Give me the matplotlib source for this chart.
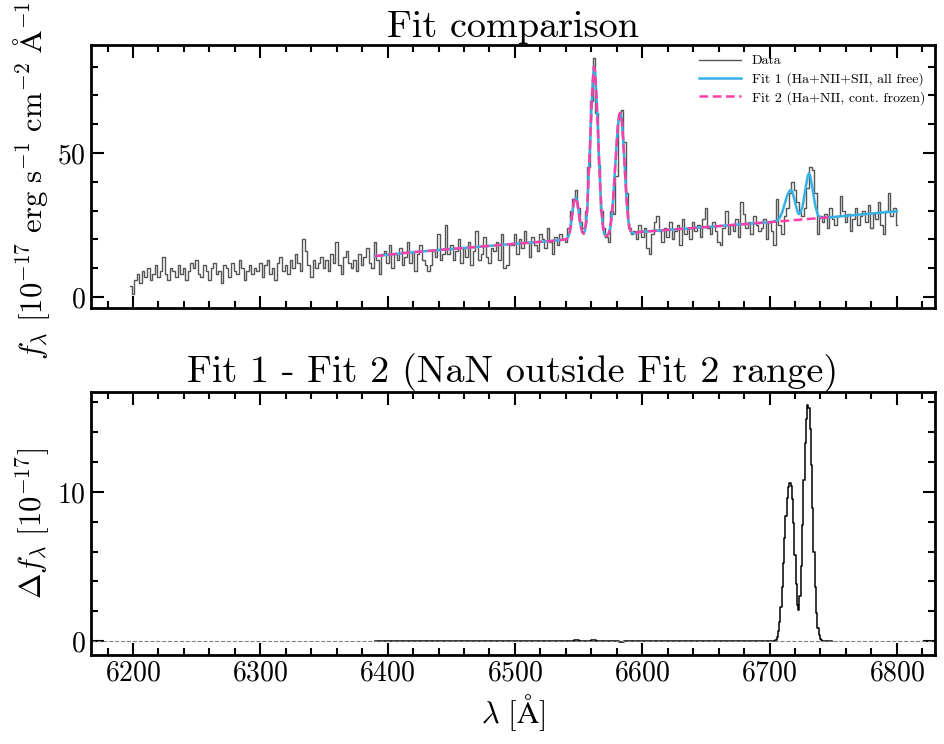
import numpy as np
import matplotlib
matplotlib.use('Agg')
import matplotlib.pyplot as plt
from matplotlib.ticker import MultipleLocator

plt.rcParams['font.family'] = 'serif'
plt.rcParams['font.serif'] = ['cmr10', 'DejaVu Serif']
plt.rcParams['mathtext.fontset'] = 'cm'
plt.rcParams['axes.formatter.use_mathtext'] = True
plt.rcParams['axes.unicode_minus'] = False

# observed spectrum, 2 A bins from 6198 to 6800
wave = np.arange(6198, 6801, 2)
flux = np.array(
    [4, 1, 6, 8, 5, 9, 7, 10, 6, 8, 11, 7, 9, 14, 8, 6, 10, 9, 7, 11, 8, 10, 6, 9, 12]
    + [10, 13, 8, 7, 11, 9, 6, 10, 12, 8, 9, 5, 11, 10, 7, 12, 9, 8, 13, 10, 6, 9, 11, 8, 10]
    + [9, 12, 7, 11, 13, 8, 10, 6, 12, 14, 9, 11, 8, 13, 10, 15, 12, 9, 20, 16, 11, 7, 13, 10, 12]
    + [14, 10, 13, 9, 15, 12, 19, 11, 8, 14, 16, 12, 10, 13, 9, 15, 11, 14, 17, 12, 10, 19, 13, 8, 15]
    + [16, 12, 18, 10, 15, 13, 17, 11, 14, 19, 12, 16, 9, 15, 18, 13, 11, 9, 11, 16, 14, 22, 13, 15, 25]
    + [15, 18, 13, 16, 20, 12, 17, 14, 19, 11, 16, 23, 13, 15, 21, 14, 12, 17, 16, 19, 13, 22, 10, 11, 18]
    + [18, 22, 15, 20, 17, 23, 19, 14, 21, 18, 16, 22, 20, 17, 24, 19, 15, 21, 18, 22, 20, 19, 24, 30, 34]
    + [37, 31, 26, 24, 30, 45, 68, 83, 64, 46, 30, 24, 21, 19, 30, 29, 42, 62, 65, 54, 36, 24, 22, 23, 20]
    + [25, 21, 24, 17, 15, 22, 26, 28, 23, 19, 24, 21, 26, 20, 23, 25, 18, 27, 22, 24, 20, 26, 23, 25, 21]
    + [27, 31, 24, 22, 26, 23, 19, 18, 24, 30, 22, 25, 23, 27, 21, 33, 29, 24, 26, 22, 28, 25, 23, 24, 27]
    + [20, 26, 23, 18, 34, 25, 22, 28, 31, 36, 40, 37, 33, 30, 28, 31, 38, 45, 44, 36, 22, 28, 26, 29, 24]
    + [31, 27, 25, 28, 35, 30, 26, 29, 23, 27, 31, 25, 28, 30, 26, 32, 24, 29, 27, 33, 25, 22, 30, 36, 28]
    + [31, 25], dtype=float)

# Fit 2 (Ha+NII, continuum frozen), 6390-6750
fit2_wave = [6390, 6413, 6450, 6500, 6527, 6540, 6541, 6542, 6543, 6544, 6545, 6546, 6547,
             6548, 6549, 6550, 6551, 6552, 6553, 6554, 6555, 6556, 6557, 6558, 6559, 6560,
             6561, 6562, 6563, 6564, 6565, 6566, 6567, 6568, 6569, 6570, 6571, 6572, 6573,
             6574, 6575, 6576, 6577, 6578, 6579, 6580, 6581, 6582, 6583, 6584, 6585, 6586,
             6587, 6588, 6589, 6590, 6591, 6592, 6593, 6594, 6598, 6650, 6700, 6747]
fit2_flux = [14.2, 15.3, 16.7, 18.5, 19.4, 20.0, 20.3, 21.0, 22.5, 25.0, 28.5, 32.0, 34.0,
             34.5, 33.0, 30.0, 26.5, 24.0, 22.5, 22.0, 23.0, 26.0, 32.0, 43.0, 53.0, 64.0,
             74.0, 80.0, 78.0, 70.0, 60.0, 49.0, 38.0, 30.0, 25.0, 22.0, 21.3, 21.2, 21.5,
             22.5, 24.5, 28.0, 33.0, 40.0, 47.0, 54.0, 60.0, 63.5, 64.0, 61.0, 55.0, 47.0,
             39.0, 32.0, 27.0, 24.0, 22.8, 22.3, 22.2, 22.2, 22.6, 24.3, 26.0, 27.7]

# Fit 1 (Ha+NII+SII, all free): same as Fit 2 up to 6700, then the SII doublet
sii_wave = [6702, 6704, 6706, 6708, 6710, 6712, 6714, 6716, 6717, 6718, 6720, 6722, 6723,
            6724, 6726, 6728, 6730, 6731, 6732, 6734, 6736, 6738, 6740, 6742, 6745, 6750, 6800]
sii_flux = [26.1, 26.3, 26.6, 27.5, 29.5, 32.5, 35.5, 37.0, 37.2, 36.5, 33.0, 29.5, 28.8,
            29.0, 31.5, 37.0, 42.0, 43.0, 42.0, 37.0, 31.5, 28.5, 27.6, 27.4, 27.6, 27.8, 29.8]

# Fit 1 - Fit 2
res_wave = [6390, 6540, 6545, 6548, 6552, 6558, 6562, 6566, 6580, 6584, 6588, 6600,
            6704, 6705, 6706, 6707, 6708, 6709, 6710, 6711, 6712, 6713, 6714, 6715, 6716,
            6717, 6718, 6719, 6720, 6721, 6722, 6723, 6724, 6725, 6726, 6727, 6728, 6729,
            6730, 6731, 6732, 6733, 6734, 6735, 6736, 6737, 6738, 6739, 6740, 6741, 6742, 6749]
res_flux = [0.0, 0.0, 0.02, 0.04, 0.0, -0.03, 0.06, -0.02, 0.0, -0.04, 0.02, 0.0,
            0.0, 0.1, 0.3, 0.7, 1.3, 2.3, 3.6, 5.2, 6.9, 8.4, 9.6, 10.3, 10.6,
            10.4, 9.5, 7.9, 5.8, 3.8, 2.4, 2.1, 3.0, 5.0, 7.8, 10.8, 13.3, 14.9,
            15.8, 15.6, 14.2, 11.8, 8.9, 6.0, 3.6, 1.9, 0.9, 0.4, 0.15, 0.05, 0.0, 0.0]

fit1_wave = fit2_wave[:-2] + [6700] + sii_wave
fit1_flux = fit2_flux[:-2] + [26.0] + sii_flux

fig = plt.figure(figsize=(9.44, 7.44), dpi=100)
ax1 = fig.add_axes([0.0964, 0.586, 0.8941, 0.3535])
ax2 = fig.add_axes([0.0964, 0.1196, 0.8941, 0.3535], sharex=ax1)

ax1.plot(wave, flux, drawstyle='steps-mid', color='#555555', lw=1.0, label='Data')
ax1.plot(fit1_wave, fit1_flux, color='#36b1e6', lw=1.8, label='Fit 1 (Ha+NII+SII, all free)')
ax1.plot(fit2_wave, fit2_flux, color='#ff3fa6', lw=1.8, ls=(0, (3.5, 1.8)),
         label='Fit 2 (Ha+NII, cont. frozen)')
ax1.set_title('Fit comparison', fontsize=27.5)
ax1.set_ylabel(r'$f_\lambda\ [10^{-17}\ \mathrm{erg\ s^{-1}\ cm^{-2}\ \AA^{-1}}]$', fontsize=22)
ax1.legend(loc='upper right', fontsize=10, frameon=False, handlelength=3.0,
           labelspacing=0.35, borderaxespad=0.3)
ax1.set_ylim(-3.8, 87.5)
ax1.yaxis.set_major_locator(MultipleLocator(50))
ax1.yaxis.set_minor_locator(MultipleLocator(10))
plt.setp(ax1.get_xticklabels(), visible=False)

ax2.plot(res_wave, res_flux, drawstyle='steps-mid', color='black', lw=1.1)
ax2.axhline(0, color='gray', ls='--', lw=0.8)
ax2.set_title('Fit 1 - Fit 2 (NaN outside Fit 2 range)', fontsize=27.5)
ax2.set_ylabel(r'$\Delta f_\lambda\ [10^{-17}]$', fontsize=22)
ax2.set_xlabel(r'$\lambda\ [\mathrm{\AA}]$', fontsize=22)
ax2.set_ylim(-0.94, 16.7)
ax2.yaxis.set_major_locator(MultipleLocator(10))
ax2.yaxis.set_minor_locator(MultipleLocator(2))

ax2.set_xlim(6167, 6830)
ax2.xaxis.set_major_locator(MultipleLocator(100))
ax2.xaxis.set_minor_locator(MultipleLocator(20))

for ax in (ax1, ax2):
    ax.tick_params(which='both', direction='in', top=True, right=True, width=1.5)
    ax.tick_params(which='major', length=9, labelsize=20)
    ax.tick_params(which='minor', length=5)
    for s in ax.spines.values():
        s.set_linewidth(2)

fig.savefig('out.png', dpi=100)
